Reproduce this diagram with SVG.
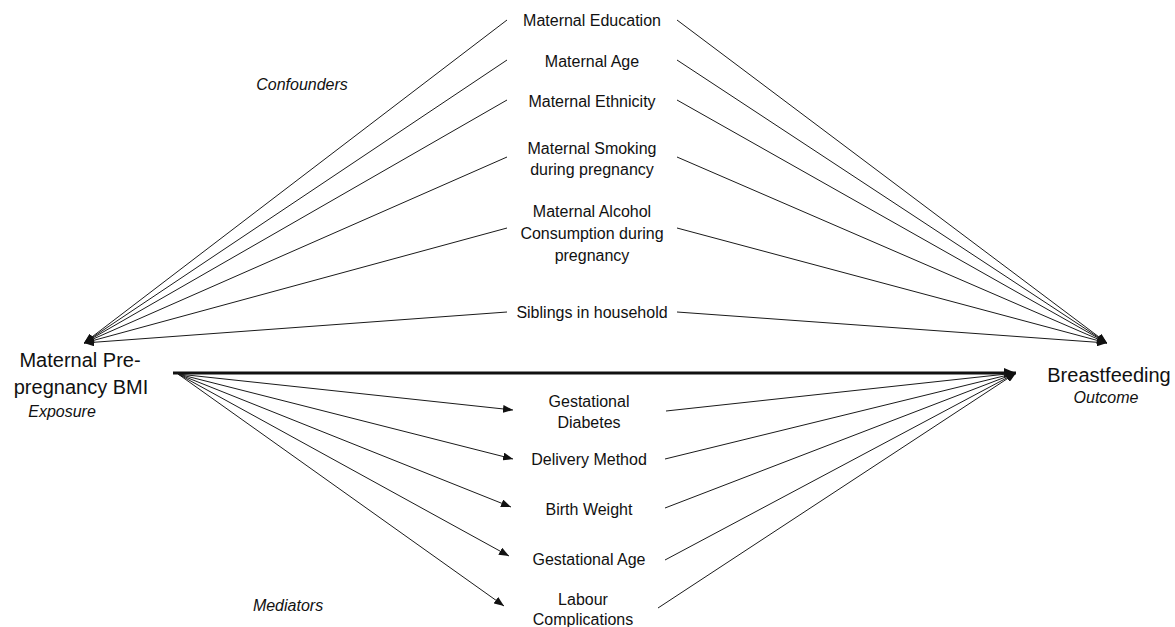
<svg xmlns="http://www.w3.org/2000/svg" width="1175" height="627" viewBox="0 0 1175 627">
<style>
.t{font-family:"Liberation Sans",Arial,sans-serif;font-size:16px;fill:#111;text-anchor:middle}
.big{font-size:20px}
.it{font-style:italic}
.c{stroke:#1a1a1a;stroke-width:1;fill:none;marker-end:url(#ah)}
.main{stroke:#111;stroke-width:3;fill:none;marker-end:url(#ahb)}
</style>
<defs>
<marker id="ah" markerUnits="userSpaceOnUse" markerWidth="10" markerHeight="8" refX="10" refY="4" orient="auto"><path d="M0,0 L10,4 L0,8 z" fill="#111"/></marker>
<marker id="ahb" markerUnits="userSpaceOnUse" markerWidth="12" markerHeight="10" refX="12" refY="5" orient="auto"><path d="M0,0 L12,5 L0,10 z" fill="#111"/></marker>
</defs>
<rect width="1175" height="627" fill="#fff"/>
<g id="connectors">
<line class="c" x1="507" y1="20" x2="84" y2="343"/>
<line class="c" x1="507" y1="60" x2="84" y2="343"/>
<line class="c" x1="507" y1="100" x2="84" y2="343"/>
<line class="c" x1="507" y1="157" x2="84" y2="343"/>
<line class="c" x1="507" y1="228" x2="84" y2="343"/>
<line class="c" x1="507" y1="312" x2="84" y2="343"/>
<line class="c" x1="677" y1="20" x2="1107" y2="343"/>
<line class="c" x1="677" y1="60" x2="1107" y2="343"/>
<line class="c" x1="677" y1="100" x2="1107" y2="343"/>
<line class="c" x1="677" y1="157" x2="1107" y2="343"/>
<line class="c" x1="677" y1="228" x2="1107" y2="343"/>
<line class="c" x1="677" y1="312" x2="1107" y2="343"/>
<line class="main" x1="173" y1="373" x2="1016" y2="373"/>
<line class="c" x1="178" y1="374" x2="513" y2="410"/>
<line class="c" x1="178" y1="374" x2="513" y2="459"/>
<line class="c" x1="178" y1="374" x2="511" y2="507"/>
<line class="c" x1="178" y1="374" x2="509" y2="556"/>
<line class="c" x1="178" y1="374" x2="504" y2="606"/>
<line class="c" x1="666" y1="411" x2="1016" y2="373"/>
<line class="c" x1="665" y1="459" x2="1016" y2="373"/>
<line class="c" x1="665" y1="508" x2="1016" y2="373"/>
<line class="c" x1="665" y1="560" x2="1016" y2="373"/>
<line class="c" x1="658" y1="608" x2="1016" y2="373"/>
</g>
<g id="exposure">
<text class="t big" x="80" y="367">Maternal Pre-</text>
<text class="t big" x="81" y="394">pregnancy BMI</text>
<text class="t it" x="62" y="417">Exposure</text>
</g>
<g id="outcome">
<text class="t big" x="1109" y="382">Breastfeeding</text>
<text class="t it" x="1106" y="403">Outcome</text>
</g>
<g id="label-confounders"><text class="t it" x="302" y="90">Confounders</text></g>
<g id="label-mediators"><text class="t it" x="288" y="611">Mediators</text></g>
<g id="maternal-education"><text class="t" x="592" y="26">Maternal Education</text></g>
<g id="maternal-age"><text class="t" x="592" y="67">Maternal Age</text></g>
<g id="maternal-ethnicity"><text class="t" x="592" y="107">Maternal Ethnicity</text></g>
<g id="maternal-smoking"><text class="t" x="592" y="154">Maternal Smoking</text><text class="t" x="592" y="175">during pregnancy</text></g>
<g id="maternal-alcohol"><text class="t" x="592" y="217">Maternal  Alcohol</text><text class="t" x="592" y="239">Consumption during</text><text class="t" x="592" y="261">pregnancy</text></g>
<g id="siblings"><text class="t" x="592" y="318">Siblings in household</text></g>
<g id="gestational-diabetes"><text class="t" x="589" y="407">Gestational</text><text class="t" x="589" y="428">Diabetes</text></g>
<g id="delivery-method"><text class="t" x="589" y="465">Delivery Method</text></g>
<g id="birth-weight"><text class="t" x="589" y="515">Birth Weight</text></g>
<g id="gestational-age"><text class="t" x="589" y="565">Gestational Age</text></g>
<g id="labour-complications"><text class="t" x="583" y="605">Labour</text><text class="t" x="583" y="625">Complications</text></g>
</svg>
